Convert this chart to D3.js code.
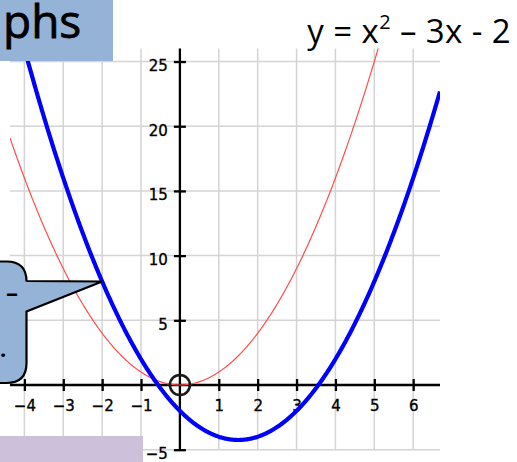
<!DOCTYPE html>
<html>
<head>
<meta charset="utf-8">
<script src="https://cdn.jsdelivr.net/npm/d3@7"></script>
<style>
  html, body { margin: 0; padding: 0; background: #fff; }
  svg { display: block; }
</style>
</head>
<body>
<script>
// Axis ticks and grid positions
const xTicks = [-4, -3, -2, -1, 1, 2, 3, 4, 5, 6];
const yTicks = [-5, 5, 10, 15, 20, 25];
const xGrid = [-4, -3, -2, -1, 0, 1, 2, 3, 4, 5, 6];
const yGrid = [-5, 0, 5, 10, 15, 20, 25];

// Quadratic coefficients [a, b, c] for y = a x^2 + b x + c
const baseCurve = [1, 0, 0];      // y = x^2
const mainCurve = [1, -3, -2];    // y = x^2 - 3x - 2

// Point marked by the callout, on the main curve
const calloutX = [-2];

const W = 517, H = 462;
const xDomain = [-4.37, 6.69];
const yDomain = [-5, 26];

const x = d3.scaleLinear().domain(xDomain).range([10, 440]);
const y = d3.scaleLinear().domain(yDomain).range([449.7, 48.6]);

const quad = (k, v) => k[0] * v * v + k[1] * v + k[2];
const samples = d3.range(xDomain[0], xDomain[1] + 0.02, 0.02);

const svg = d3.select("body").append("svg")
  .attr("width", W).attr("height", H);

svg.append("defs").append("clipPath").attr("id", "plot")
  .append("rect")
  .attr("x", x(xDomain[0])).attr("y", y(yDomain[1]))
  .attr("width", x(xDomain[1]) - x(xDomain[0]))
  .attr("height", y(yDomain[0]) - y(yDomain[1]));

// Grid
const grid = svg.append("g").attr("stroke", "#d4d4d4").attr("stroke-width", 1.5);
grid.selectAll("line.v").data(xGrid).join("line")
  .attr("x1", d => x(d)).attr("x2", d => x(d))
  .attr("y1", y(yDomain[1])).attr("y2", y(yDomain[0]));
grid.selectAll("line.h").data(yGrid).join("line")
  .attr("y1", d => y(d)).attr("y2", d => y(d))
  .attr("x1", x(xDomain[0])).attr("x2", x(xDomain[1]));

// Axes: cross-shaped ticks through the zero lines
const fmt = d => d < 0 ? "\u2212" + Math.abs(d) : d;
const xAxis = d3.axisBottom(x).tickValues(xTicks).tickSize(6).tickFormat(fmt);
const gx = svg.append("g").attr("transform", `translate(0,${y(0)})`).call(xAxis);
gx.select(".domain").attr("d", `M${x(xDomain[0])},0H${x(xDomain[1])}`);
gx.selectAll(".tick line").attr("y1", -6).attr("y2", 6);
gx.selectAll(".tick text").attr("y", 15).attr("dy", "0.72em");

const yAxis = d3.axisLeft(y).tickValues(yTicks).tickSize(6).tickFormat(fmt);
const gy = svg.append("g").attr("transform", `translate(${x(0)},0)`).call(yAxis);
gy.select(".domain").attr("d", `M0,${y(yDomain[1])}V${y(yDomain[0])}`);
gy.selectAll(".tick line").attr("x1", -6).attr("x2", 6);
gy.selectAll(".tick text").attr("x", -12).attr("dy", "0.70em").attr("y", -1.5);

svg.selectAll(".domain, .tick line")
  .attr("stroke", "#000").attr("stroke-width", 2.3);
svg.selectAll(".tick text")
  .attr("font-family", "'DejaVu Sans', Verdana, sans-serif")
  .attr("font-size", 15).attr("fill", "#000")
  .attr("stroke", "#000").attr("stroke-width", 0.35);

// Curves
const line = k => d3.line().x(d => x(d)).y(d => y(quad(k, d)));
const curves = svg.append("g").attr("clip-path", "url(#plot)").attr("fill", "none");
curves.append("path").attr("d", line(baseCurve)(samples))
  .attr("stroke", "#ff4d4d").attr("stroke-width", 1.2);
curves.append("path").attr("d", line(mainCurve)(samples))
  .attr("stroke", "#0000ff").attr("stroke-width", 4.2);

// Vertex of y = x^2 circled
svg.append("circle")
  .attr("cx", x(0)).attr("cy", y(quad(baseCurve, 0))).attr("r", 10)
  .attr("fill", "none").attr("stroke", "#1a1a1a").attr("stroke-width", 2.6);

// Speech bubble pointing at the marked point
const tipX = x(calloutX[0]), tipY = y(quad(mainCurve, calloutX[0]));
const bx = 26.5, bTop = 261.5, bBottom = 383, br = 20;
const bubble = `M-40,${bTop} H${bx - br} Q${bx},${bTop} ${bx},${bTop + br}
  V281 L${tipX},${tipY} L${bx},311.5 V${bBottom - br}
  Q${bx},${bBottom} ${bx - br},${bBottom} H-40 Z`;
svg.append("path").attr("d", bubble)
  .attr("fill", "#95b3d7").attr("stroke", "#000").attr("stroke-width", 2.2)
  .attr("stroke-linejoin", "miter");
svg.append("text").attr("x", 6).attr("y", 301).text("\u2013")
  .attr("font-family", "'Comic Sans MS', 'Open Sans', sans-serif")
  .attr("font-size", 24).attr("font-weight", "bold").attr("fill", "#000");
svg.append("text").attr("x", 0).attr("y", 357).text(".")
  .attr("font-family", "'Comic Sans MS', 'Open Sans', sans-serif")
  .attr("font-size", 22).attr("font-weight", "bold").attr("fill", "#000");

// Heading box at top-left
svg.append("rect").attr("x", 0).attr("y", 0).attr("width", 113).attr("height", 61)
  .attr("fill", "#95b3d7");
svg.append("text").attr("x", 3).attr("y", 38).text("phs")
  .attr("font-family", "'Comic Sans MS', 'Open Sans', sans-serif")
  .attr("font-size", 46).attr("fill", "#000")
  .attr("stroke", "#000").attr("stroke-width", 0.8);

// Lower box
svg.append("rect").attr("x", 0).attr("y", 436).attr("width", 143).attr("height", 30)
  .attr("fill", "#ccc0da");

// Equation
const eq = svg.append("text").attr("x", 511).attr("y", 43)
  .attr("text-anchor", "end")
  .attr("font-family", "'Comic Sans MS', 'Open Sans', sans-serif")
  .attr("font-size", 33).attr("letter-spacing", 0.4).attr("fill", "#000");
eq.append("tspan").text("y = x");
eq.append("tspan").attr("font-size", 20).attr("dy", -14).text("2");
eq.append("tspan").attr("dy", 14).text(" \u2013 3x - 2");
</script>
</body>
</html>
